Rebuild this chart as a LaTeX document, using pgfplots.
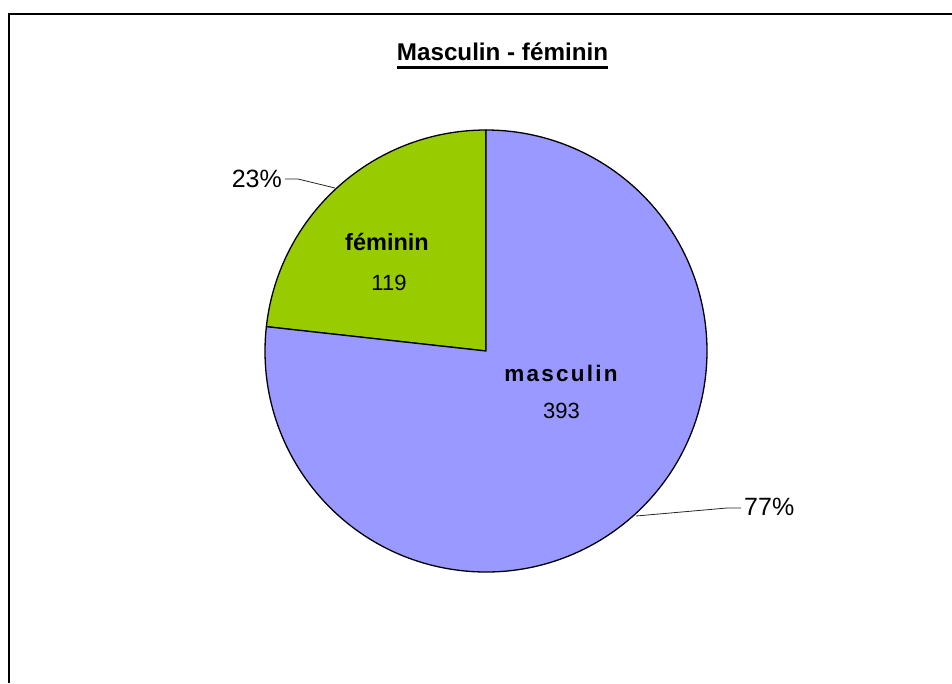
\documentclass[border=0pt]{standalone}
\usepackage{pgfplots}
\pgfplotsset{compat=1.18}
\usepackage{pgfplotstable}
\usepackage{fontspec}
\setmainfont{Liberation Sans}
\definecolor{masc}{HTML}{9999FF}
\definecolor{fem}{HTML}{99CC00}
\pgfplotstableread{
key value
masculin 393
feminin 119
}\datatable
\begin{document}
\begin{tikzpicture}[x=1pt,y=1pt]
\pgfplotstablegetelem{0}{value}\of\datatable
\pgfmathsetmacro\vm{\pgfplotsretval}
\pgfplotstablegetelem{1}{value}\of\datatable
\pgfmathsetmacro\vf{\pgfplotsretval}
\pgfmathsetmacro\sharef{\vf/(\vm+\vf)}
\pgfmathsetmacro\af{360*\sharef}
\pgfmathsetmacro\endf{90+\af}
\pgfmathtruncatemacro\pfem{round(100*\sharef)}
\pgfmathtruncatemacro\pmasc{100-\pfem}
\pgfmathtruncatemacro\nm{\vm}
\pgfmathtruncatemacro\nf{\vf}
\useasboundingbox (0,0) rectangle (952,683);
\begin{axis}[at={(0,0)},anchor=south west,scale only axis,
  width=952pt,height=683pt,xmin=0,xmax=952,ymin=0,ymax=683,
  y dir=reverse,hide axis,clip=false]
\fill[fill=fem,draw=black,line width=1.3pt,line join=round]
  (axis cs:486,351) -- ++(90:221pt) arc[start angle=90,end angle=\endf,radius=221pt] -- cycle;
\fill[fill=masc,draw=black,line width=1.3pt,line join=round]
  (axis cs:486,351) -- ++(\endf:221pt) arc[start angle=\endf,end angle=450,radius=221pt] -- cycle;
% leader lines
\draw[line width=0.8pt,black!85] (axis cs:285,179) -- (axis cs:298,179) -- (axis cs:335,188);
\draw[line width=0.8pt,black!85] (axis cs:741,508) -- (axis cs:727,508) -- (axis cs:636,516);
% labels
\node[anchor=base,font=\bfseries\fontsize{23.5}{28}\selectfont,inner sep=0pt] at (axis cs:387,250) {féminin};
\node[anchor=base,font=\fontsize{22}{26}\selectfont,inner sep=0pt] at (axis cs:389,290) {\nf};
\node[anchor=base,font=\bfseries\fontsize{22.5}{27}\selectfont\addfontfeature{LetterSpace=10},inner sep=0pt] at (axis cs:561,381) {masculin};
\node[anchor=base,font=\fontsize{22}{26}\selectfont,inner sep=0pt] at (axis cs:561.5,418) {\nm};
\node[anchor=base east,font=\fontsize{25}{30}\selectfont,inner sep=0pt] at (axis cs:282,187) {\pfem\%};
\node[anchor=base west,font=\fontsize{25}{30}\selectfont,inner sep=0pt] at (axis cs:744,515) {\pmasc\%};
% title
\node[anchor=base,font=\bfseries\fontsize{24.2}{29}\selectfont,inner sep=0pt] (title) at (axis cs:502.5,60) {Masculin - féminin};
\draw[line width=3.5pt] ([yshift=-7.5pt]title.base west) -- ([yshift=-7.5pt]title.base east);
% frame
\draw[line width=1.5pt] (axis cs:9,683) -- (axis cs:9,14) -- (axis cs:952,14);
\end{axis}
\end{tikzpicture}
\end{document}
